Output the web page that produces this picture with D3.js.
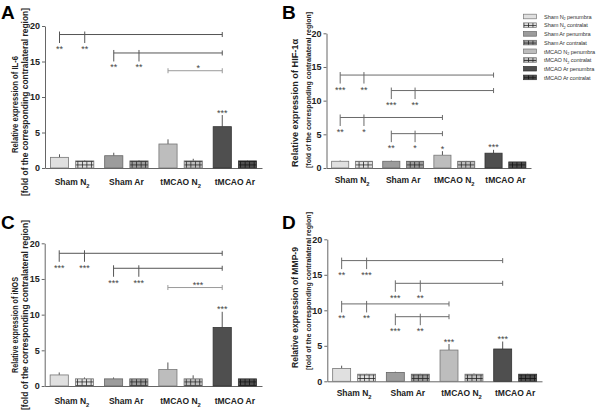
<!DOCTYPE html>
<html><head><meta charset="utf-8">
<script src="https://cdn.jsdelivr.net/npm/d3@7"></script>
<style>body{margin:0;background:#fff}svg{display:block;font-family:"Liberation Sans",Arial,sans-serif}</style>
</head><body>
<svg id="chart" width="600" height="414"></svg>
<script>
// ---------- data ----------
const categories = ["Sham N2", "Sham Ar", "tMCAO N2", "tMCAO Ar"];
const seriesNames = ["penumbra", "contralat"];
const yTicks = [0, 5, 10, 15, 20];
const legendLabels = [
  "Sham N2 penumbra", "Sham N2 contralat", "Sham Ar penumbra", "Sham Ar contralat",
  "tMCAO N2 penumbra", "tMCAO N2 contralat", "tMCAO Ar penumbra", "tMCAO Ar contralat"
];

// A: IL-6
const il6Penumbra = [1.5, 1.73, 3.38, 5.82];
const il6PenumbraErr = [1.93, 2.15, 4.04, 7.46];
const il6Contralat = [1.0, 1.0, 1.0, 1.0];
const il6ContralatErr = [1.1, 1.1, 1.3, 1.05];
const il6Stars = ["", "", "", "***"];
const il6Brackets = [
  { y: 18.8, from: 0, to: 6, drops: [0, 1], labels: ["**", "**"] },
  { y: 16.2, from: 2, to: 6, drops: [2, 3], labels: ["**", "**"] },
  { y: 13.7, from: 4, to: 6, drops: [], labels: ["*"] }
];

// B: HIF-1α
const hifPenumbra = [1.0, 1.0, 1.9, 2.2];
const hifPenumbraErr = [1.1, 1.1, 2.5, 2.7];
const hifContralat = [1.0, 1.0, 1.0, 0.9];
const hifContralatErr = [1.0, 1.0, 1.05, 0.9];
const hifStars = ["", "", "*", "***"];
const hifBrackets = [
  { y: 13.8, from: 0, to: 6, drops: [0, 1], labels: ["***", "**"] },
  { y: 11.5, from: 2, to: 6, drops: [2, 3], labels: ["***", "**"] },
  { y: 7.5, from: 0, to: 4, drops: [0, 1], labels: ["**", "*"] },
  { y: 5.1, from: 2, to: 4, drops: [2, 3], labels: ["**", "*"] }
];

// C: iNOS
const inosPenumbra = [1.55, 1.0, 2.3, 8.2];
const inosPenumbraErr = [1.9, 1.2, 3.3, 10.4];
const inosContralat = [1.0, 1.0, 1.0, 1.0];
const inosContralatErr = [1.2, 1.0, 1.5, 1.0];
const inosStars = ["", "", "", "***"];
const inosBrackets = [
  { y: 18.6, from: 0, to: 6, drops: [0, 1], labels: ["***", "***"] },
  { y: 16.5, from: 2, to: 6, drops: [2, 3], labels: ["***", "***"] },
  { y: 13.8, from: 4, to: 6, drops: [], labels: ["***"] }
];

// D: MMP-9
const mmpPenumbra = [1.8, 1.25, 4.4, 4.55];
const mmpPenumbraErr = [2.2, 1.35, 5.25, 5.6];
const mmpContralat = [1.0, 1.0, 1.0, 1.0];
const mmpContralatErr = [1.05, 1.05, 1.1, 1.05];
const mmpStars = ["", "", "***", "***"];
const mmpBrackets = [
  { y: 17.0, from: 0, to: 6, drops: [0, 1], labels: ["**", "***"] },
  { y: 13.8, from: 2, to: 6, drops: [2, 3], labels: ["***", "**"] },
  { y: 10.9, from: 0, to: 4, drops: [0, 1], labels: ["**", "**"] },
  { y: 9.1, from: 2, to: 4, drops: [2, 3], labels: ["***", "**"] }
];

// ---------- style / layout ----------
const groupFill = ["#e0e0e0", "#9c9c9c", "#bdbdbd", "#4f4f4f"];
const groupStroke = ["#777", "#666", "#777", "#333"];
const FONT = '"Liberation Sans", Arial, sans-serif';

const svg = d3.select("#chart");
const defs = svg.append("defs");
groupFill.forEach((c, i) => {
  const p = defs.append("pattern").attr("id", "grid" + i)
    .attr("patternUnits", "userSpaceOnUse").attr("width", 4.5).attr("height", 3.5);
  p.append("rect").attr("width", 4.5).attr("height", 3.5).attr("fill", c);
  p.append("path").attr("d", "M0.4,0V3.5M0,0.4H4.5")
    .attr("stroke", i === 3 ? "#111" : "#222").attr("stroke-width", 0.8).attr("fill", "none");
});

function subText(sel, str, fs) {
  const i = str.indexOf("N2");
  if (i < 0) { sel.text(str); return; }
  sel.text(null);
  sel.append("tspan").text(str.slice(0, i + 1));
  sel.append("tspan").text("2").attr("font-size", fs * 0.68).attr("dy", fs * 0.3);
  const rest = str.slice(i + 2);
  if (rest) sel.append("tspan").text(rest).attr("dy", -fs * 0.3);
}

function drawPanel(cfg, d) {
  const g = svg.append("g");
  const y = d3.scaleLinear().domain([0, 20]).range([cfg.yBot, cfg.yTop]);
  const x0 = d3.scaleBand().domain(categories).range([cfg.x0, cfg.x1])
    .paddingInner(0.2).paddingOuter(0.1);
  const x1 = d3.scaleBand().domain(seriesNames).range([0, x0.bandwidth()]).paddingInner(0.28);
  const barCenter = k => x0(categories[Math.floor(k / 2)]) + x1(seriesNames[k % 2]) + x1.bandwidth() / 2;

  // y axis
  const ya = g.append("g").attr("transform", `translate(${cfg.x0},0)`)
    .call(d3.axisLeft(y).tickValues(yTicks).tickSize(3).tickSizeOuter(0).tickPadding(2));
  ya.selectAll("path,line").attr("stroke", "#666");
  ya.selectAll("text").attr("font-size", 9).attr("font-weight", "bold")
    .attr("fill", "#222").attr("font-family", FONT);

  // x axis
  const xa = g.append("g").attr("transform", `translate(0,${cfg.yBot})`)
    .call(d3.axisBottom(x0).tickSize(0).tickSizeOuter(0).tickPadding(cfg.labPad));
  xa.select(".domain").attr("stroke", "#666");
  xa.selectAll("text").attr("font-size", 8.5).attr("font-weight", "bold")
    .attr("fill", "#222").attr("font-family", FONT)
    .each(function (c) { subText(d3.select(this), c, 8.5); });

  // bars
  const rows = categories.map((c, i) => ({
    c, i, vals: [
      { s: "penumbra", v: d.pen[i], e: d.penErr[i], star: d.stars[i] },
      { s: "contralat", v: d.con[i], e: d.conErr[i], star: "" }
    ]
  }));
  const grp = g.selectAll(".grp").data(rows).join("g")
    .attr("transform", r => `translate(${x0(r.c)},0)`);
  grp.selectAll("line.err").data(r => r.vals.map(v => ({ ...v, gi: r.i }))).join("line")
    .attr("class", "err")
    .attr("x1", v => x1(v.s) + x1.bandwidth() / 2).attr("x2", v => x1(v.s) + x1.bandwidth() / 2)
    .attr("y1", v => y(v.v)).attr("y2", v => y(Math.max(v.e, v.v)))
    .attr("stroke", "#555").attr("stroke-width", 1);
  grp.selectAll("rect").data(r => r.vals.map(v => ({ ...v, gi: r.i }))).join("rect")
    .attr("x", v => x1(v.s)).attr("width", x1.bandwidth())
    .attr("y", v => y(v.v)).attr("height", v => y(0) - y(v.v))
    .attr("fill", v => v.s === "penumbra" ? groupFill[v.gi] : `url(#grid${v.gi})`)
    .attr("stroke", v => groupStroke[v.gi]).attr("stroke-width", 0.8);
  grp.selectAll("text.star").data(r => r.vals.filter(v => v.star)).join("text")
    .attr("class", "star")
    .attr("x", v => x1(v.s) + x1.bandwidth() / 2).attr("y", v => y(v.e) + 0.5)
    .attr("text-anchor", "middle").attr("font-size", 9).attr("fill", "#444")
    .attr("font-family", FONT).text(v => v.star);

  // brackets
  d.brackets.forEach(b => {
    const yy = y(b.y);
    const xa_ = barCenter(b.from), xb = barCenter(b.to);
    const plain = b.drops.length === 0;
    const col = plain ? "#9a9a9a" : cfg.brCol;
    g.append("line").attr("x1", xa_).attr("x2", xb).attr("y1", yy).attr("y2", yy)
      .attr("stroke", col).attr("stroke-width", 1);
    g.append("line").attr("x1", xb).attr("x2", xb).attr("y1", yy - 2.5).attr("y2", yy + 2.5)
      .attr("stroke", col).attr("stroke-width", 1);
    if (plain) {
      g.append("line").attr("x1", xa_).attr("x2", xa_).attr("y1", yy - 2.5).attr("y2", yy + 2.5)
        .attr("stroke", col).attr("stroke-width", 1);
      g.append("text").attr("x", (xa_ + xb) / 2 + 3).attr("y", yy + 0.5)
        .attr("text-anchor", "middle").attr("font-size", 9).attr("fill", "#444")
        .attr("font-family", FONT).text(b.labels[0]);
    } else {
      b.drops.forEach((k, j) => {
        const xx = barCenter(k);
        g.append("line").attr("x1", xx).attr("x2", xx).attr("y1", yy - 3).attr("y2", yy + 8.5)
          .attr("stroke", col).attr("stroke-width", 1);
        g.append("text").attr("x", xx).attr("y", yy + 17.5)
          .attr("text-anchor", "middle").attr("font-size", 9).attr("fill", "#444")
          .attr("font-family", FONT).text(b.labels[j]);
      });
    }
  });

  // y titles
  const t1 = cfg.t1, t2 = cfg.t2;
  [[t1, d.title], [t2, "[fold of the corresponding contralateral region]"]].forEach(([t, s]) => {
    g.append("text")
      .attr("transform", `translate(${t.x},${t.c}) rotate(-90)`)
      .attr("text-anchor", "middle").attr("dy", "0.35em")
      .attr("font-size", t.fs).attr("font-weight", "bold").attr("fill", "#222")
      .attr("font-family", FONT)
      .attr("textLength", t.len).attr("lengthAdjust", "spacingAndGlyphs")
      .text(s);
  });

  // panel letter
  svg.append("text").attr("x", cfg.letter[0]).attr("y", cfg.letter[1])
    .attr("font-size", 19).attr("font-weight", "bold").attr("fill", "#000")
    .attr("font-family", FONT).text(cfg.name);
}

drawPanel(
  { name: "A", x0: 45, x1: 262, yTop: 26, yBot: 168, labPad: 11, brCol: "#555", letter: [1, 18.5],
    t1: { x: 14.5, c: 104.5, len: 97, fs: 9.5 }, t2: { x: 25.5, c: 102, len: 188, fs: 8.5 } },
  { title: "Relative expression of IL-6", pen: il6Penumbra, penErr: il6PenumbraErr,
    con: il6Contralat, conErr: il6ContralatErr, stars: il6Stars, brackets: il6Brackets });

drawPanel(
  { name: "B", x0: 326.5, x1: 531, yTop: 33.3, yBot: 168, labPad: 9, brCol: "#6a6a6a", letter: [282, 18.5],
    t1: { x: 295, c: 103, len: 128, fs: 9 }, t2: { x: 308, c: 90, len: 156, fs: 7.5 } },
  { title: "Relative expression of HIF-1α", pen: hifPenumbra, penErr: hifPenumbraErr,
    con: hifContralat, conErr: hifContralatErr, stars: hifStars, brackets: hifBrackets });

drawPanel(
  { name: "C", x0: 44.7, x1: 262, yTop: 243.3, yBot: 386, labPad: 12, brCol: "#555", letter: [1, 228.5],
    t1: { x: 14.5, c: 325, len: 96, fs: 9.5 }, t2: { x: 25.5, c: 315, len: 190, fs: 8.5 } },
  { title: "Relative expression of iNOS", pen: inosPenumbra, penErr: inosPenumbraErr,
    con: inosContralat, conErr: inosContralatErr, stars: inosStars, brackets: inosBrackets });

drawPanel(
  { name: "D", x0: 327.3, x1: 542, yTop: 239.3, yBot: 381.3, labPad: 9, brCol: "#6a6a6a", letter: [282, 229],
    t1: { x: 295, c: 307.5, len: 121, fs: 9 }, t2: { x: 308, c: 291, len: 158, fs: 7.5 } },
  { title: "Relative expression of MMP-9", pen: mmpPenumbra, penErr: mmpPenumbraErr,
    con: mmpContralat, conErr: mmpContralatErr, stars: mmpStars, brackets: mmpBrackets });

// legend
const leg = svg.append("g");
const legRows = leg.selectAll("g").data(legendLabels).join("g")
  .attr("transform", (l, i) => `translate(523.5,${16.5 + i * 8.7})`);
legRows.append("rect").attr("x", 0).attr("y", -2.3).attr("width", 13).attr("height", 4.6)
  .attr("fill", (l, i) => i % 2 === 0 ? groupFill[Math.floor(i / 2)] : `url(#grid${Math.floor(i / 2)})`)
  .attr("stroke", (l, i) => groupStroke[Math.floor(i / 2)]).attr("stroke-width", 0.7);
legRows.append("text").attr("x", 20.5).attr("y", 2.2)
  .attr("font-size", 5.6).attr("fill", "#333").attr("font-family", FONT)
  .attr("letter-spacing", -0.1)
  .each(function (l) { subText(d3.select(this), l, 5.6); });
</script>
</body></html>
